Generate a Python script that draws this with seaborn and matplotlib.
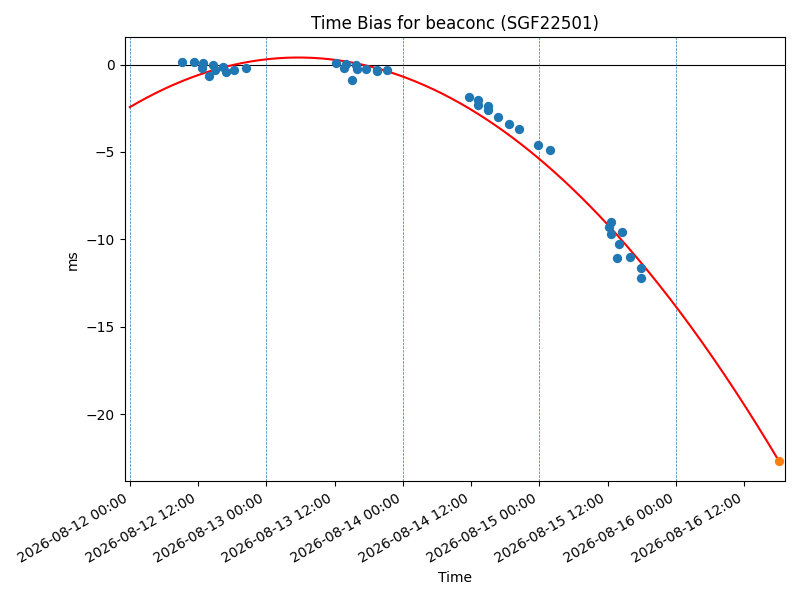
import numpy as np
import pandas as pd
import matplotlib
matplotlib.use("Agg")
import matplotlib.pyplot as plt
import matplotlib.dates as mdates
import seaborn as sns

# measured time bias points (ms)
obs_times = [
    "2026-08-12 09:12", "2026-08-12 11:18", "2026-08-12 12:54", "2026-08-12 12:42",
    "2026-08-12 14:42", "2026-08-12 14:00", "2026-08-12 15:00", "2026-08-12 16:24",
    "2026-08-12 16:54", "2026-08-12 18:24", "2026-08-12 20:24",
    "2026-08-13 12:12", "2026-08-13 13:42", "2026-08-13 14:00", "2026-08-13 15:00",
    "2026-08-13 15:48", "2026-08-13 15:54", "2026-08-13 17:30", "2026-08-13 19:24",
    "2026-08-13 19:30", "2026-08-13 21:18",
    "2026-08-14 11:36", "2026-08-14 13:12", "2026-08-14 13:12", "2026-08-14 14:54",
    "2026-08-14 14:54", "2026-08-14 16:42", "2026-08-14 18:36", "2026-08-14 20:30",
    "2026-08-14 23:48", "2026-08-15 01:48",
    "2026-08-15 12:12", "2026-08-15 12:36", "2026-08-15 12:36", "2026-08-15 13:36",
    "2026-08-15 14:06", "2026-08-15 14:30", "2026-08-15 16:00", "2026-08-15 17:54",
    "2026-08-15 17:54",
]
obs_bias = [
    0.13, 0.15, 0.09, -0.19,
    -0.04, -0.67, -0.29, -0.15,
    -0.42, -0.33, -0.21,
    0.09, -0.19, 0.02, -0.91,
    -0.04, -0.23, -0.25, -0.29,
    -0.38, -0.29,
    -1.87, -2.04, -2.32, -2.38,
    -2.62, -3.01, -3.39, -3.71,
    -4.60, -4.91,
    -9.32, -9.00, -9.70, -11.09,
    -10.27, -9.57, -10.99, -11.66,
    -12.21,
]

# predicted point at end of fit
pred_time = "2026-08-16 18:09"
pred_bias = -22.7

# quadratic fit (ms vs hours since fit start), highest power first
fit_start = "2026-08-12 00:00"
fit_coeffs = [-0.003234, 0.1917, -2.44]

day_lines = ["2026-08-12", "2026-08-13", "2026-08-14", "2026-08-15", "2026-08-16"]

obs = pd.DataFrame({"time": pd.to_datetime(obs_times), "bias": obs_bias})
t0 = pd.Timestamp(fit_start)
t_end = pd.Timestamp(pred_time)
hrs = np.linspace(0, (t_end - t0) / pd.Timedelta(hours=1), 300)
fit = pd.DataFrame({
    "time": t0 + pd.to_timedelta(hrs, unit="h"),
    "bias": np.polyval(fit_coeffs, hrs),
})

fig, ax = plt.subplots(figsize=(8, 6), dpi=100)

ax.axhline(0, color="black", lw=0.8, zorder=1)
for d in day_lines:
    ax.axvline(pd.Timestamp(d), color="C0", ls="--", lw=0.5, zorder=1)

sns.lineplot(data=fit, x="time", y="bias", color="red", lw=1.5, ax=ax, zorder=2)
sns.scatterplot(data=obs, x="time", y="bias", color="C0", s=45, linewidth=0,
                ax=ax, zorder=3)
sns.scatterplot(x=[t_end], y=[pred_bias], color="C1", s=45, linewidth=0,
                ax=ax, zorder=3)

ax.set_xlim(t0 - pd.Timedelta(hours=0.93), t_end + pd.Timedelta(hours=1.05))
ax.xaxis.set_major_locator(mdates.HourLocator(byhour=[0, 12]))
ax.xaxis.set_major_formatter(mdates.DateFormatter("%Y-%m-%d %H:%M"))

ax.set_title("Time Bias for beaconc (SGF22501)")
ax.set_xlabel("Time")
ax.set_ylabel("ms")
fig.autofmt_xdate()
fig.tight_layout()
fig.savefig("out.png")
